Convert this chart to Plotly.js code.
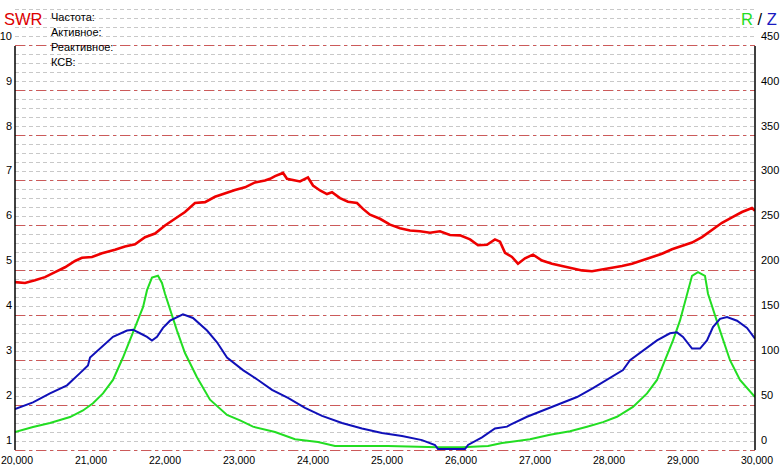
<!DOCTYPE html>
<html><head><meta charset="utf-8">
<script src="https://cdn.plot.ly/plotly-3.0.1.min.js"></script>
<style>html,body{margin:0;padding:0;background:#fff}#chart{width:780px;height:465px}</style>
</head><body><div id="chart"></div>
<script>
// SWR (left axis)
var swrFreq = [20000,20135,20270,20405,20541,20676,20811,20905,21041,21176,21351,21486,21622,21757,21892,22027,22162,22297,22432,22568,22703,22838,22973,23108,23243,23378,23446,23514,23622,23676,23757,23851,23959,24027,24122,24216,24284,24392,24500,24622,24703,24797,24932,25068,25203,25338,25473,25608,25743,25878,26014,26149,26257,26378,26486,26554,26622,26716,26797,26892,27000,27122,27257,27392,27527,27662,27797,27932,28068,28203,28338,28473,28608,28743,28878,29014,29149,29284,29419,29554,29689,29824,29959,30000];
var swrVal = [4.74,4.72,4.78,4.85,4.96,5.07,5.21,5.28,5.30,5.38,5.46,5.53,5.58,5.74,5.82,6.00,6.15,6.30,6.50,6.52,6.64,6.72,6.79,6.85,6.96,7.00,7.04,7.10,7.17,7.04,7.02,6.98,7.07,6.89,6.78,6.70,6.74,6.61,6.53,6.50,6.37,6.24,6.15,6.02,5.94,5.89,5.87,5.84,5.87,5.79,5.78,5.69,5.56,5.57,5.69,5.64,5.39,5.30,5.15,5.27,5.35,5.22,5.15,5.10,5.04,5.00,4.98,5.02,5.05,5.10,5.15,5.22,5.30,5.37,5.47,5.54,5.62,5.74,5.91,6.06,6.18,6.30,6.39,6.33];
// R (right axis)
var rFreq = [20000,20243,20473,20743,20919,21054,21189,21324,21459,21554,21649,21730,21784,21851,21932,21986,22027,22095,22189,22297,22459,22635,22865,23041,23216,23514,23784,24095,24324,25041,25500,25716,26041,26392,26581,26689,26959,27230,27500,27730,27946,28135,28351,28541,28676,28784,28892,28986,29081,29149,29230,29324,29365,29432,29527,29662,29797,30000];
var rVal = [20,25.6,30,36.7,44,52,63,78,103,122,141,159,178,192,194,186,174,156,133,108,81,56,39,33,26,20,12,9,4.4,4.4,3.3,3,3,4.4,7.8,9,12,17,21,26,31,37,48,63,78,100,122,144,174,194,198,194,174,156,133,100,78,59];
// Z (right axis)
var zFreq = [20000,20243,20473,20703,20878,20986,21014,21149,21324,21514,21595,21689,21784,21851,21919,22000,22095,22270,22405,22595,22730,22865,23081,23284,23473,23689,23919,24149,24419,24689,24959,25230,25500,25676,25716,26081,26122,26311,26486,26649,26689,26919,27135,27365,27595,27811,28041,28216,28311,28486,28676,28851,28946,29027,29149,29257,29351,29432,29527,29622,29757,29892,30000];
var zVal = [45.6,53,63,72,85.6,94,103,113,126,133,134,130,126,122,126,136,144,151,147,133,120,103,89,78,67,58,47,38,30,24,19,15.6,11,5.6,1,1,5.6,14,24,26,28,37,44,52,59,69,80,89,100,111,122,130,131,126,113,113,122,137,146,148,144,136,124];
var xTicks = [20000,21000,22000,23000,24000,25000,26000,27000,28000,29000,30000];
var swrTicks = [1,2,3,4,5,6,7,8,9,10];
var rzTicks = [0,50,100,150,200,250,300,350,400,450];

var font = "Liberation Sans, Arial, sans-serif";
var traces = [
  {x: swrFreq, y: swrVal, mode:'lines', line:{color:'#ee0000', width:2.6}, yaxis:'y', hoverinfo:'skip'},
  {x: rFreq, y: rVal, mode:'lines', line:{color:'#22dd22', width:2}, yaxis:'y2', hoverinfo:'skip'},
  {x: zFreq, y: zVal, mode:'lines', line:{color:'#1010b8', width:2}, yaxis:'y2', hoverinfo:'skip'}
];
var yLo = 1 - 2/45, yHi = 11.022;
function px(p){ return (p-15)/740; }
function py(p){ return (452-p)/452; }
var layout = {
  width:780, height:465,
  margin:{l:15, r:25, t:0, b:13, pad:0},
  paper_bgcolor:'#fff', plot_bgcolor:'#fff',
  showlegend:false,
  xaxis:{range:[20000,30000], tickmode:'array', tickvals:xTicks, tickformat:',', showgrid:false, zeroline:false,
         showline:false, ticks:'', ticklabeloverflow:'allow', ticklabelshift:2, tickfont:{family:font, size:10.5, color:'#000'}},
  yaxis:{range:[yLo,yHi], tickmode:'array', tickvals:swrTicks, showgrid:true, gridcolor:'#cc5a5a', griddash:'10px,4px,3px,4px', gridwidth:1,
         zeroline:false, showline:false, ticks:'', ticklabeloverflow:'allow', tickfont:{family:font, size:11, color:'#000'}, ticklabelshift:-10, ticklabelstandoff:2,
         minor:{tickmode:'linear', tick0:1, dtick:0.2, showgrid:true, gridcolor:'#c8c8c8', griddash:'4px,3px', gridwidth:1, ticks:''}},
  yaxis2:{range:[(yLo-1)*50,(yHi-1)*50], overlaying:'y', side:'right', tickmode:'array', tickvals:rzTicks, showgrid:false,
          zeroline:false, showline:false, ticks:'', ticklabeloverflow:'allow', tickfont:{family:font, size:11, color:'#000'}, ticklabelshift:-10, ticklabelstandoff:5},
  shapes:[
    {type:'line', xref:'paper', yref:'y', x0:0, x1:0, y0:1, y1:10, line:{color:'#000', width:1.5}},
    {type:'line', xref:'paper', yref:'y', x0:1, x1:1, y0:1, y1:10, line:{color:'#000', width:1.5}}
  ],
  annotations:[
    {xref:'paper', yref:'paper', x:px(2), y:py(19), xanchor:'left', yanchor:'middle', showarrow:false, text:'SWR', font:{family:font, size:16.5, color:'#dd0000'}},
    {xref:'paper', yref:'paper', x:px(49), y:py(17), xanchor:'left', yanchor:'middle', showarrow:false, text:'Частота:', font:{family:font, size:11, color:'#000'}},
    {xref:'paper', yref:'paper', x:px(49), y:py(32), xanchor:'left', yanchor:'middle', showarrow:false, text:'Активное:', font:{family:font, size:11, color:'#000'}},
    {xref:'paper', yref:'paper', x:px(49), y:py(47), xanchor:'left', yanchor:'middle', showarrow:false, text:'Реактивное:', font:{family:font, size:11, color:'#000'}},
    {xref:'paper', yref:'paper', x:px(49), y:py(62), xanchor:'left', yanchor:'middle', showarrow:false, text:'КСВ:', font:{family:font, size:11, color:'#000'}},
    {xref:'paper', yref:'paper', x:px(779), y:py(19), xanchor:'right', yanchor:'middle', showarrow:false,
     text:'<span style="color:#22dd22">R</span> / <span style="color:#1a1ac0">Z</span>', font:{family:font, size:16.5, color:'#000'}}
  ]
};
Plotly.newPlot('chart', traces, layout, {staticPlot:true, displayModeBar:false});
</script></body></html>
